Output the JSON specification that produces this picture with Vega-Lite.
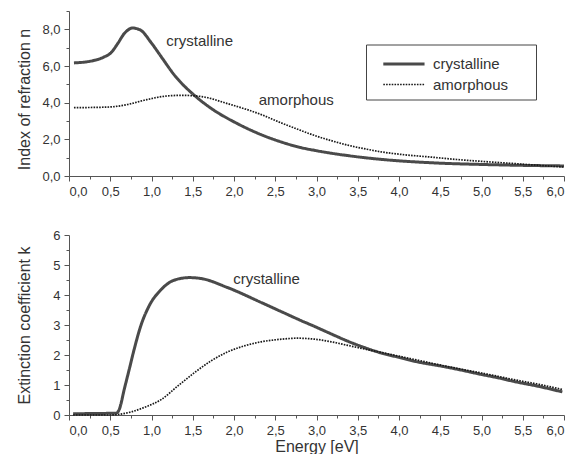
{
  "$schema": "https://vega.github.io/schema/vega-lite/v6.json",
  "padding": {"left": 16, "top": 10, "right": 0, "bottom": 0},
  "config": {
    "font": "Liberation Sans",
    "view": {"stroke": null},
    "axis": {"grid": false, "domainColor": "#555", "tickColor": "#555", "labelColor": "#333", "titleColor": "#333", "labelFontSize": 13, "titleFontSize": 16, "titleFontWeight": "normal", "labelFont": "Liberation Sans", "titleFont": "Liberation Sans", "labelPadding": 4}
  },
  "datasets": {
    "n": [
      {"E": 0.06, "v": 6.17, "series": "crystalline"}, {"E": 0.2, "v": 6.22, "series": "crystalline"}, {"E": 0.31, "v": 6.31, "series": "crystalline"}, {"E": 0.42, "v": 6.48, "series": "crystalline"}, {"E": 0.51, "v": 6.73, "series": "crystalline"}, {"E": 0.59, "v": 7.22, "series": "crystalline"}, {"E": 0.67, "v": 7.77, "series": "crystalline"}, {"E": 0.77, "v": 8.07, "series": "crystalline"}, {"E": 0.87, "v": 7.95, "series": "crystalline"}, {"E": 0.99, "v": 7.31, "series": "crystalline"}, {"E": 1.12, "v": 6.49, "series": "crystalline"}, {"E": 1.28, "v": 5.49, "series": "crystalline"}, {"E": 1.52, "v": 4.4, "series": "crystalline"}, {"E": 1.72, "v": 3.7, "series": "crystalline"}, {"E": 2.04, "v": 2.86, "series": "crystalline"}, {"E": 2.3, "v": 2.31, "series": "crystalline"}, {"E": 2.57, "v": 1.86, "series": "crystalline"}, {"E": 2.81, "v": 1.55, "series": "crystalline"}, {"E": 3.0, "v": 1.38, "series": "crystalline"}, {"E": 3.4, "v": 1.1, "series": "crystalline"}, {"E": 3.8, "v": 0.9, "series": "crystalline"}, {"E": 4.4, "v": 0.72, "series": "crystalline"}, {"E": 5.0, "v": 0.63, "series": "crystalline"}, {"E": 5.5, "v": 0.58, "series": "crystalline"}, {"E": 6.0, "v": 0.55, "series": "crystalline"},
      {"E": 0.06, "v": 3.73, "series": "amorphous"}, {"E": 0.3, "v": 3.74, "series": "amorphous"}, {"E": 0.51, "v": 3.77, "series": "amorphous"}, {"E": 0.71, "v": 3.9, "series": "amorphous"}, {"E": 0.91, "v": 4.13, "series": "amorphous"}, {"E": 1.2, "v": 4.37, "series": "amorphous"}, {"E": 1.37, "v": 4.4, "series": "amorphous"}, {"E": 1.61, "v": 4.33, "series": "amorphous"}, {"E": 1.92, "v": 3.95, "series": "amorphous"}, {"E": 2.33, "v": 3.35, "series": "amorphous"}, {"E": 2.57, "v": 2.9, "series": "amorphous"}, {"E": 2.8, "v": 2.5, "series": "amorphous"}, {"E": 2.97, "v": 2.22, "series": "amorphous"}, {"E": 3.2, "v": 1.9, "series": "amorphous"}, {"E": 3.38, "v": 1.68, "series": "amorphous"}, {"E": 3.6, "v": 1.47, "series": "amorphous"}, {"E": 3.78, "v": 1.32, "series": "amorphous"}, {"E": 4.0, "v": 1.19, "series": "amorphous"}, {"E": 4.39, "v": 1.03, "series": "amorphous"}, {"E": 4.7, "v": 0.9, "series": "amorphous"}, {"E": 5.0, "v": 0.8, "series": "amorphous"}, {"E": 5.39, "v": 0.68, "series": "amorphous"}, {"E": 5.7, "v": 0.58, "series": "amorphous"}, {"E": 6.0, "v": 0.49, "series": "amorphous"}
    ],
    "k": [
      {"E": 0.05, "v": 0.04, "series": "crystalline"}, {"E": 0.3, "v": 0.05, "series": "crystalline"}, {"E": 0.57, "v": 0.06, "series": "crystalline"}, {"E": 0.61, "v": 0.19, "series": "crystalline"}, {"E": 0.67, "v": 0.86, "series": "crystalline"}, {"E": 0.73, "v": 1.52, "series": "crystalline"}, {"E": 0.79, "v": 2.19, "series": "crystalline"}, {"E": 0.87, "v": 2.97, "series": "crystalline"}, {"E": 0.97, "v": 3.63, "series": "crystalline"}, {"E": 1.12, "v": 4.19, "series": "crystalline"}, {"E": 1.28, "v": 4.5, "series": "crystalline"}, {"E": 1.46, "v": 4.58, "series": "crystalline"}, {"E": 1.6, "v": 4.55, "series": "crystalline"}, {"E": 1.92, "v": 4.25, "series": "crystalline"}, {"E": 2.33, "v": 3.75, "series": "crystalline"}, {"E": 2.57, "v": 3.45, "series": "crystalline"}, {"E": 2.81, "v": 3.15, "series": "crystalline"}, {"E": 2.97, "v": 2.96, "series": "crystalline"}, {"E": 3.18, "v": 2.7, "series": "crystalline"}, {"E": 3.38, "v": 2.46, "series": "crystalline"}, {"E": 3.58, "v": 2.25, "series": "crystalline"}, {"E": 3.78, "v": 2.07, "series": "crystalline"}, {"E": 4.0, "v": 1.92, "series": "crystalline"}, {"E": 4.19, "v": 1.79, "series": "crystalline"}, {"E": 4.51, "v": 1.63, "series": "crystalline"}, {"E": 4.75, "v": 1.5, "series": "crystalline"}, {"E": 5.0, "v": 1.35, "series": "crystalline"}, {"E": 5.2, "v": 1.24, "series": "crystalline"}, {"E": 5.39, "v": 1.12, "series": "crystalline"}, {"E": 5.7, "v": 0.95, "series": "crystalline"}, {"E": 5.98, "v": 0.77, "series": "crystalline"},
      {"E": 0.05, "v": 0.0, "series": "amorphous"}, {"E": 0.5, "v": 0.0, "series": "amorphous"}, {"E": 0.6, "v": 0.02, "series": "amorphous"}, {"E": 0.75, "v": 0.1, "series": "amorphous"}, {"E": 0.91, "v": 0.25, "series": "amorphous"}, {"E": 1.12, "v": 0.52, "series": "amorphous"}, {"E": 1.32, "v": 0.97, "series": "amorphous"}, {"E": 1.52, "v": 1.41, "series": "amorphous"}, {"E": 1.72, "v": 1.8, "series": "amorphous"}, {"E": 1.92, "v": 2.1, "series": "amorphous"}, {"E": 2.12, "v": 2.3, "series": "amorphous"}, {"E": 2.33, "v": 2.44, "series": "amorphous"}, {"E": 2.55, "v": 2.52, "series": "amorphous"}, {"E": 2.77, "v": 2.56, "series": "amorphous"}, {"E": 2.97, "v": 2.53, "series": "amorphous"}, {"E": 3.18, "v": 2.44, "series": "amorphous"}, {"E": 3.38, "v": 2.32, "series": "amorphous"}, {"E": 3.58, "v": 2.2, "series": "amorphous"}, {"E": 3.78, "v": 2.09, "series": "amorphous"}, {"E": 4.0, "v": 1.96, "series": "amorphous"}, {"E": 4.19, "v": 1.85, "series": "amorphous"}, {"E": 4.51, "v": 1.66, "series": "amorphous"}, {"E": 4.75, "v": 1.53, "series": "amorphous"}, {"E": 5.0, "v": 1.4, "series": "amorphous"}, {"E": 5.2, "v": 1.29, "series": "amorphous"}, {"E": 5.39, "v": 1.18, "series": "amorphous"}, {"E": 5.7, "v": 1.02, "series": "amorphous"}, {"E": 5.98, "v": 0.85, "series": "amorphous"}
    ],
    "labels": [
      {"panel": "n", "E": 1.18, "v": 7.35, "label": "crystalline"},
      {"panel": "n", "E": 2.3, "v": 4.13, "label": "amorphous"},
      {"panel": "k", "E": 1.99, "v": 4.55, "label": "crystalline"}
    ]
  },
  "spacing": 31,
  "resolve": {
    "scale": {"x": "independent", "y": "independent", "color": "independent", "strokeDash": "independent", "strokeWidth": "independent"},
    "legend": {"color": "independent", "strokeDash": "independent", "strokeWidth": "independent"}
  },
  "vconcat": [
    {
      "width": 495,
      "height": 165,
      "layer": [
        {
          "data": {"name": "n"},
          "mark": {"type": "line", "opacity": 0},
          "encoding": {
            "x": {"field": "E", "type": "quantitative", "scale": {"domain": [0, 6], "nice": false}, "axis": {"orient": "bottom", "values": [0.25, 0.75, 1.25, 1.75, 2.25, 2.75, 3.25, 3.75, 4.25, 4.75, 5.25, 5.75], "labels": false, "domain": false, "tickSize": 3, "title": null}},
            "y": {"field": "v", "type": "quantitative", "scale": {"domain": [0, 9], "nice": false}, "axis": {"orient": "left", "values": [1, 3, 5, 7, 9], "labels": false, "domain": false, "tickSize": 3, "title": null}},
            "detail": {"field": "series"}
          }
        },
        {
          "data": {"name": "n"},
          "mark": {"type": "line", "interpolate": "monotone"},
          "encoding": {
            "x": {"field": "E", "type": "quantitative", "axis": {"orient": "bottom", "values": [0, 0.5, 1, 1.5, 2, 2.5, 3, 3.5, 4, 4.5, 5, 5.5, 6], "labelExpr": "replace(format(datum.value, '.1f'), '.', ',')", "tickSize": 5, "title": null}},
            "y": {"field": "v", "type": "quantitative", "axis": {"orient": "left", "values": [0, 2, 4, 6, 8], "labelExpr": "replace(format(datum.value, '.1f'), '.', ',')", "tickSize": 5, "title": "Index of refraction n", "titleX": -37, "titleY": 88}},
            "color": {"field": "series", "type": "nominal", "scale": {"domain": ["crystalline", "amorphous"], "range": ["#4a4a4a", "#1a1a1a"]},
              "legend": {"orient": "none", "legendX": 297, "legendY": 33.5, "title": null, "strokeColor": "#444", "padding": 7, "symbolType": "M-0.2,0H3.55", "symbolSize": 484, "labelOffset": 35, "labelFontSize": 15, "labelColor": "#333", "labelFont": "Liberation Sans", "rowPadding": 0, "labelExpr": "datum.label + '\u00a0\u00a0\u00a0\u00a0\u00a0\u200b'"}},
            "strokeDash": {"field": "series", "type": "nominal", "scale": {"domain": ["crystalline", "amorphous"], "range": [[1, 0], [1.6, 1.2]]},
              "legend": {"orient": "none", "legendX": 297, "legendY": 33.5, "title": null, "strokeColor": "#444", "padding": 7, "symbolType": "M-0.2,0H3.55", "symbolSize": 484, "labelOffset": 35, "labelFontSize": 15, "labelColor": "#333", "labelFont": "Liberation Sans", "rowPadding": 0, "labelExpr": "datum.label + '\u00a0\u00a0\u00a0\u00a0\u00a0\u200b'"}},
            "strokeWidth": {"field": "series", "type": "nominal", "scale": {"domain": ["crystalline", "amorphous"], "range": [3, 1.7]},
              "legend": {"orient": "none", "legendX": 297, "legendY": 33.5, "title": null, "strokeColor": "#444", "padding": 7, "symbolType": "M-0.2,0H3.55", "symbolSize": 484, "labelOffset": 35, "labelFontSize": 15, "labelColor": "#333", "labelFont": "Liberation Sans", "rowPadding": 0, "labelExpr": "datum.label + '\u00a0\u00a0\u00a0\u00a0\u00a0\u200b'"}}
          }
        },
        {
          "data": {"name": "labels"},
          "transform": [{"filter": "datum.panel == 'n'"}],
          "mark": {"type": "text", "align": "left", "baseline": "middle", "fontSize": 15, "color": "#333", "font": "Liberation Sans"},
          "encoding": {
            "x": {"field": "E", "type": "quantitative", "axis": null},
            "y": {"field": "v", "type": "quantitative", "axis": null},
            "text": {"field": "label"}
          }
        }
      ],
      "resolve": {"axis": {"x": "independent", "y": "independent"}}
    },
    {
      "width": 495,
      "height": 180,
      "layer": [
        {
          "data": {"name": "k"},
          "mark": {"type": "line", "opacity": 0},
          "encoding": {
            "x": {"field": "E", "type": "quantitative", "scale": {"domain": [0, 6], "nice": false}, "axis": {"orient": "bottom", "values": [0.25, 0.75, 1.25, 1.75, 2.25, 2.75, 3.25, 3.75, 4.25, 4.75, 5.25, 5.75], "labels": false, "domain": false, "tickSize": 3, "title": null}},
            "y": {"field": "v", "type": "quantitative", "scale": {"domain": [0, 6], "nice": false}, "axis": {"orient": "left", "values": [0.5, 1.5, 2.5, 3.5, 4.5, 5.5], "labels": false, "domain": false, "tickSize": 3, "title": null}},
            "detail": {"field": "series"}
          }
        },
        {
          "data": {"name": "k"},
          "mark": {"type": "line", "interpolate": "monotone"},
          "encoding": {
            "x": {"field": "E", "type": "quantitative", "axis": {"orient": "bottom", "values": [0, 0.5, 1, 1.5, 2, 2.5, 3, 3.5, 4, 4.5, 5, 5.5, 6], "labelExpr": "replace(format(datum.value, '.1f'), '.', ',')", "tickSize": 5, "title": "Energy [eV]", "titlePadding": 1}},
            "y": {"field": "v", "type": "quantitative", "axis": {"orient": "left", "values": [0, 1, 2, 3, 4, 5, 6], "format": "d", "tickSize": 5, "title": "Extinction coefficient k", "titleX": -37, "titleY": 90}},
            "color": {"field": "series", "type": "nominal", "scale": {"domain": ["crystalline", "amorphous"], "range": ["#4a4a4a", "#1a1a1a"]}, "legend": null},
            "strokeDash": {"field": "series", "type": "nominal", "scale": {"domain": ["crystalline", "amorphous"], "range": [[1, 0], [1.6, 1.2]]}, "legend": null},
            "strokeWidth": {"field": "series", "type": "nominal", "scale": {"domain": ["crystalline", "amorphous"], "range": [3, 1.7]}, "legend": null}
          }
        },
        {
          "data": {"name": "labels"},
          "transform": [{"filter": "datum.panel == 'k'"}],
          "mark": {"type": "text", "align": "left", "baseline": "middle", "fontSize": 15, "color": "#333", "font": "Liberation Sans"},
          "encoding": {
            "x": {"field": "E", "type": "quantitative", "axis": null},
            "y": {"field": "v", "type": "quantitative", "axis": null},
            "text": {"field": "label"}
          }
        }
      ],
      "resolve": {"axis": {"x": "independent", "y": "independent"}}
    }
  ]
}
